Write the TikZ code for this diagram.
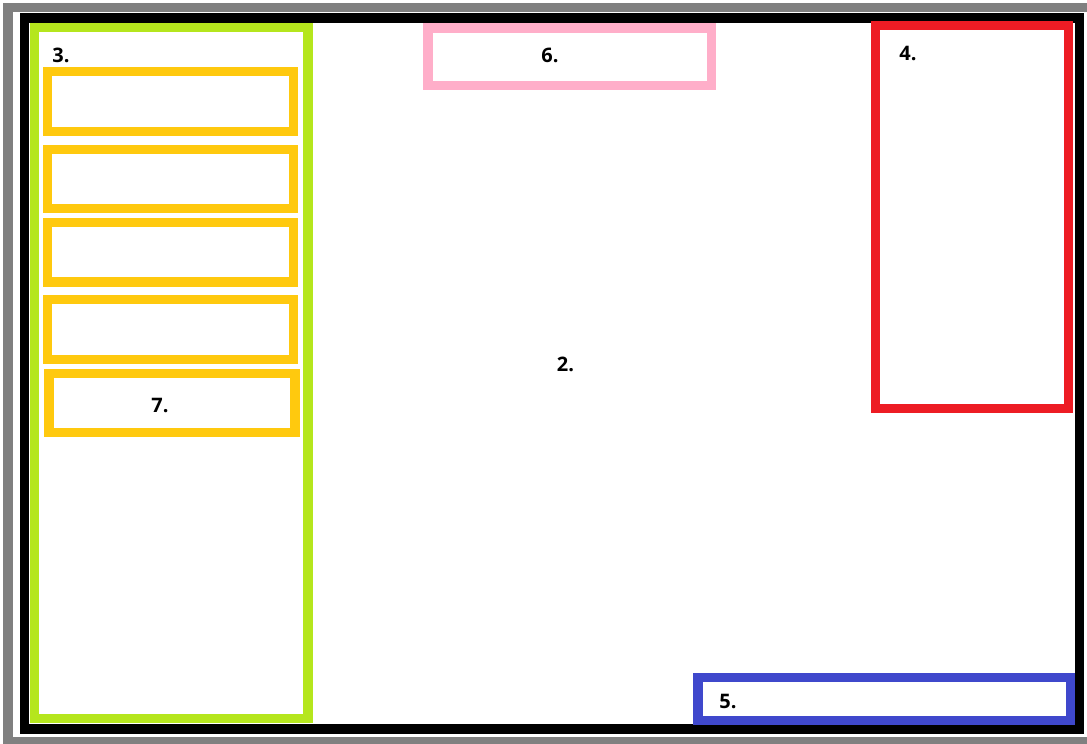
\documentclass[tikz,border=0pt]{standalone}
\usepackage{fontspec}
\setmainfont{Open Sans}
\definecolor{framegray}{RGB}{128,128,128}
\definecolor{sidegreen}{RGB}{181,230,29}
\definecolor{itemorange}{RGB}{255,201,14}
\definecolor{headpink}{RGB}{255,174,201}
\definecolor{panelred}{RGB}{237,28,36}
\definecolor{footblue}{RGB}{63,72,204}
\tikzset{
  box/.style={line width=9.2pt},
  num/.style={font=\bfseries\fontsize{20}{24}\selectfont, inner sep=0pt, text=black}
}

\begin{document}
\begin{tikzpicture}[x=1pt,y=-1pt]
\useasboundingbox (0,0) rectangle (1087,744);
\clip (0,0) rectangle (1087,744);
\draw [box,framegray] (8,7.5) rectangle (1110,741.5);
\draw [box,black] (24.3,18) rectangle (1079.2,729);
\draw [box,sidegreen] (34.7,27.2) rectangle (308,718.7);
\draw [box,itemorange] (47.2,71.3) rectangle (293.8,131.3);
\draw [box,itemorange] (47.2,149.5) rectangle (293.8,208.8);
\draw [box,itemorange] (47.2,222.8) rectangle (293.8,282);
\draw [box,itemorange] (47.2,299.7) rectangle (293.8,359.5);
\draw [box,itemorange] (49,373.8) rectangle (295,432.8);
\draw [box,headpink] (428,28) rectangle (711.7,85.5);
\draw [box,panelred] (875.3,25.3) rectangle (1068.5,408.8);
\draw [box,footblue] (698,677.2) rectangle (1070.5,720.5);
\node [num] (mainnum) at (565.5,364) {2.};
\node [num] (sidenum) at (61,55) {3.};
\node [num] (panelnum) at (908,53) {4.};
\node [num] (footnum) at (728,701.5) {5.};
\node [num] (headnum) at (550,55.5) {6.};
\node [num] (itemnum) at (160,405) {7.};
\end{tikzpicture}
\end{document}
